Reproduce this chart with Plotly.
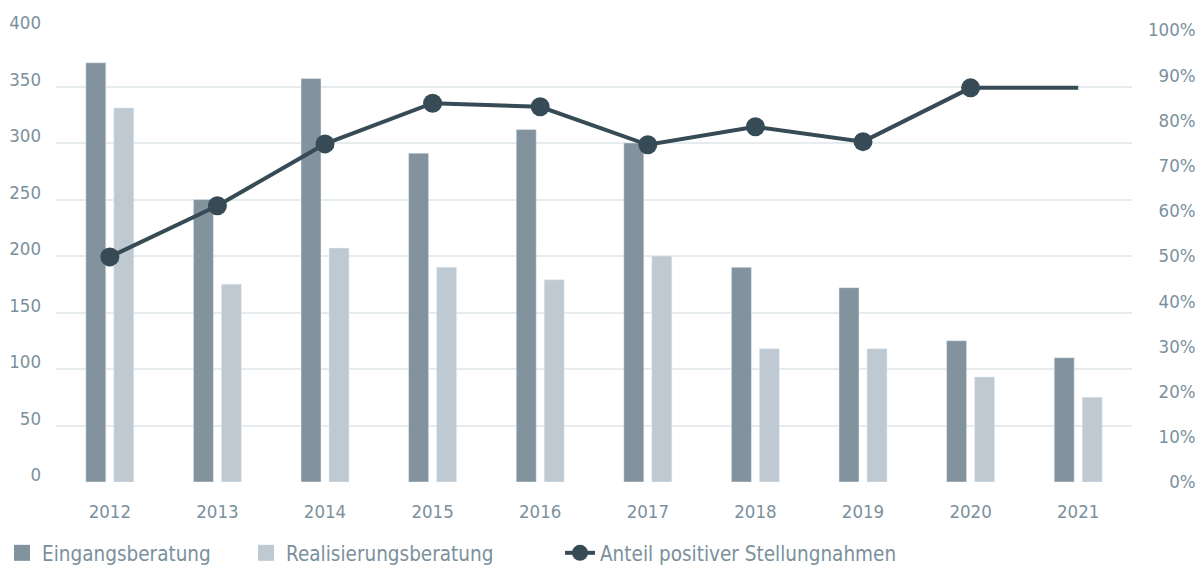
import plotly.graph_objects as go

years = ["2012", "2013", "2014", "2015", "2016", "2017", "2018", "2019", "2020", "2021"]
eingang = [371, 250, 357, 291, 312, 300, 190, 172, 125, 110]
realisierung = [331, 175, 207, 190, 179, 200, 118, 118, 93, 75]
anteil = [49.8, 61.1, 74.8, 83.8, 83.0, 74.6, 78.6, 75.3, 87.2, 87.2]

left_ticks = [0, 50, 100, 150, 200, 250, 300, 350, 400]
right_ticks = [0, 10, 20, 30, 40, 50, 60, 70, 80, 90, 100]
# right-aligned labels: pad with figure spaces (digit width)
right_labels = [("\u2007" * (3 - len(str(v)))) + f"{v}%" for v in right_ticks]

C_DARK = "#82939e"
C_LIGHT = "#bec9d1"
C_LINE = "#364b55"
C_TEXT = "#7b909d"
C_GRID = "#e6ebee"
FONT = "DejaVu Sans Condensed, Liberation Sans Narrow, sans-serif"
TICK_SIZE = 18.5
LEG_SIZE = 20.5

OFF = 8  # page body margin
W, H = 1203 - OFF, 568 - OFF
# target page coordinates of the plot area (value 0 at PB, top value at PT0)
PL, PR, PT0, PB = 56, 1132, 30, 482
PT = PT0 - 1  # one extra pixel so the top gridline is drawn
ML, MT = PL - OFF, PT - OFF
MR = W - (PR - OFF)
MB = H - (PB - OFF)
pw = W - ML - MR
ph = H - MT - MB
ext = (PB - PT) / (PB - PT0)

def px_x(p):
    return (p - OFF - ML) / pw

def px_y(p):
    return (PB - p) / ph

fig = go.Figure()
fig.add_trace(go.Bar(x=years, y=eingang, marker_color=C_DARK, showlegend=False,
                     name="Eingangsberatung"))
fig.add_trace(go.Bar(x=years, y=realisierung, marker_color=C_LIGHT, showlegend=False,
                     name="Realisierungsberatung"))
sizes = [19] * (len(years) - 1) + [0]
fig.add_trace(go.Scatter(x=years, y=anteil, yaxis="y2", mode="lines+markers",
                         line=dict(color=C_LINE, width=4),
                         marker=dict(color=C_LINE, size=sizes, opacity=1, line=dict(width=0)),
                         opacity=1,
                         showlegend=False, name="Anteil positiver Stellungnahmen"))

# legend entries
fig.add_trace(go.Scatter(x=[None], y=[None], mode="markers", name="Eingangsberatung",
                         marker=dict(symbol="square", size=20, color=C_DARK, line=dict(width=0)),
                         legend="legend"))
fig.add_trace(go.Scatter(x=[None], y=[None], mode="markers", name="Realisierungsberatung",
                         marker=dict(symbol="square", size=20, color=C_LIGHT, line=dict(width=0)),
                         legend="legend2"))
fig.add_trace(go.Scatter(x=[None], y=[None], mode="lines+markers", name="Anteil positiver Stellungnahmen",
                         line=dict(color=C_LINE, width=4),
                         marker=dict(color=C_LINE, size=19, line=dict(width=0)), legend="legend3"))

leg_common = dict(orientation="h", yanchor="middle", xanchor="left",
                  font=dict(family=FONT, size=LEG_SIZE, color=C_TEXT),
                  bgcolor="rgba(0,0,0,0)", borderwidth=0)

fig.update_layout(
    width=W, height=H,
    margin=dict(l=ML, r=MR, t=MT, b=MB, autoexpand=False),
    paper_bgcolor="white", plot_bgcolor="white",
    font=dict(family=FONT, size=TICK_SIZE, color=C_TEXT),
    barmode="group", bargap=0.48, bargroupgap=0.286,
    xaxis=dict(type="category", range=[-0.5, len(years) - 0.5], showgrid=False, showline=False,
               zeroline=False, ticks="", ticklabelstandoff=16,
               tickfont=dict(family=FONT, size=TICK_SIZE, color=C_TEXT)),
    yaxis=dict(range=[0, 400 * ext], tickvals=left_ticks, showgrid=True, gridcolor=C_GRID,
               gridwidth=1.5, zeroline=False, showline=False, ticks="",
               ticklabelstandoff=14, ticklabelshift=-7,
               tickfont=dict(family=FONT, size=TICK_SIZE, color=C_TEXT)),
    yaxis2=dict(range=[0, 100 * ext], tickvals=right_ticks, ticktext=right_labels,
                overlaying="y", side="right", showgrid=False, zeroline=False,
                showline=False, ticks="", ticklabelstandoff=15,
                tickfont=dict(family=FONT, size=TICK_SIZE, color=C_TEXT)),
    legend=dict(x=px_x(2), y=px_y(553), **leg_common),
    legend2=dict(x=px_x(246), y=px_y(553), **leg_common),
    legend3=dict(x=px_x(560), y=px_y(553), **leg_common),
)

fig.write_html("out.html")
